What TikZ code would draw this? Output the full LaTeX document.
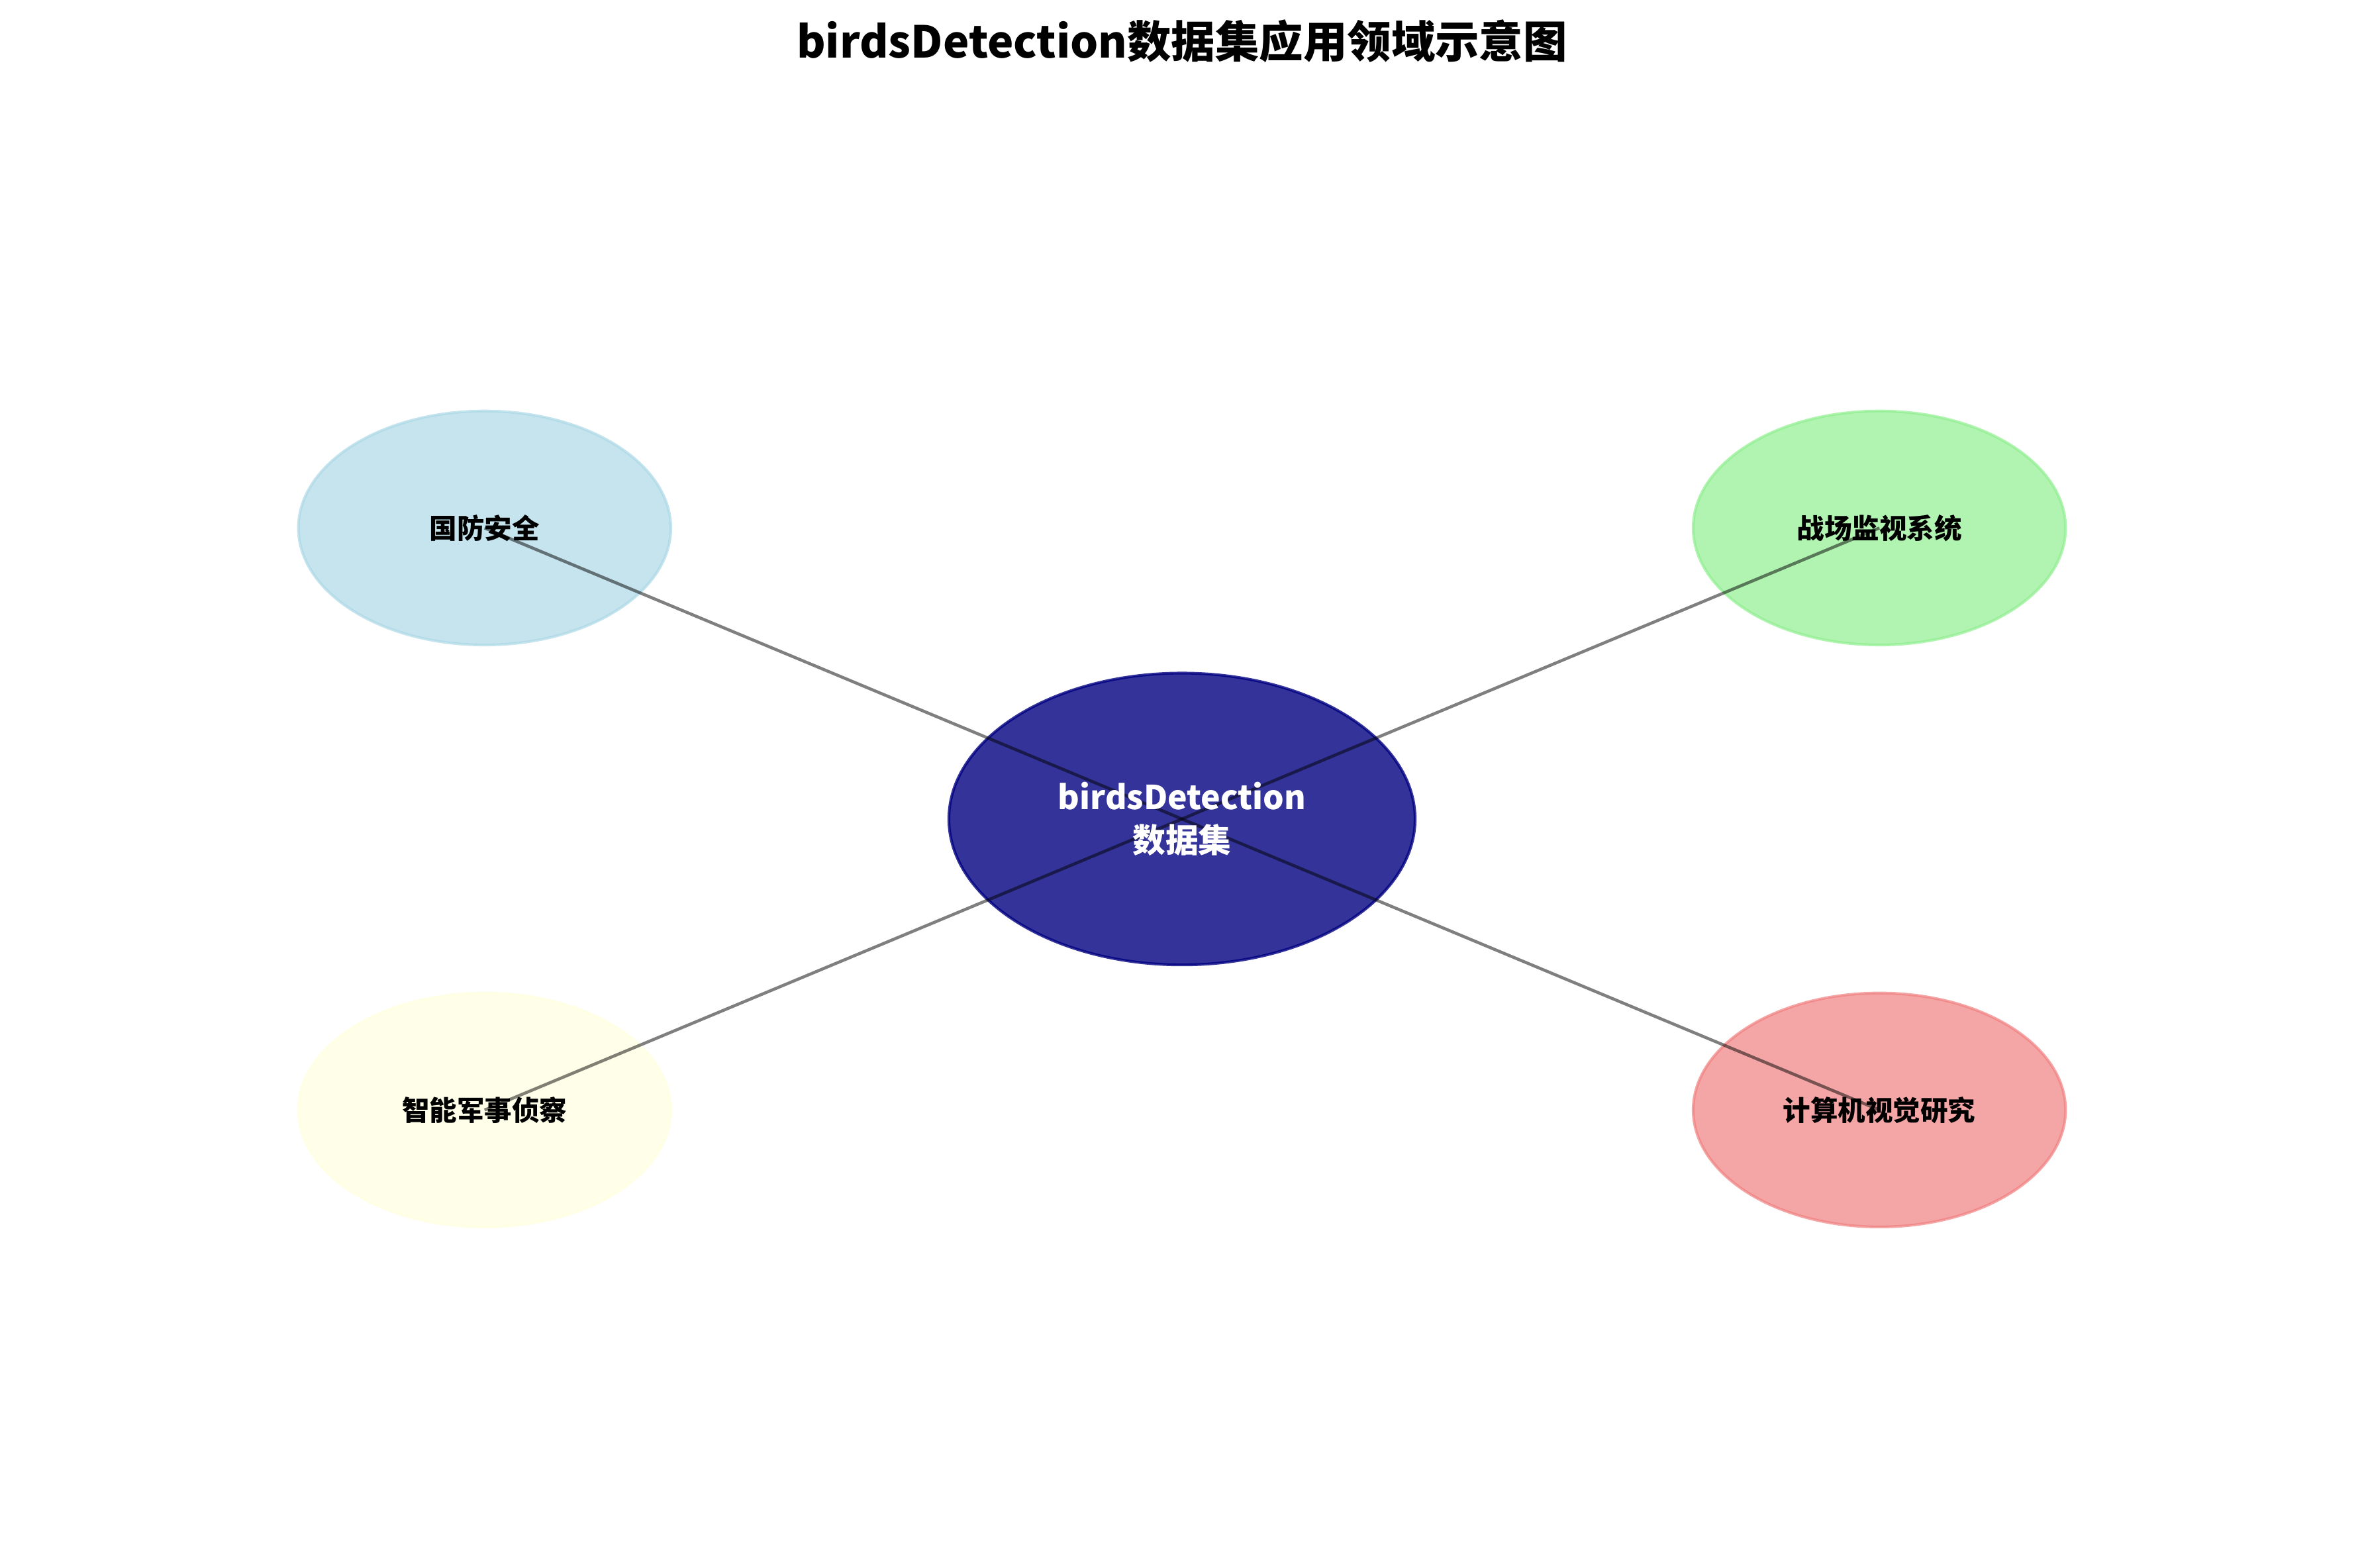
\documentclass[tikz,border=0pt]{standalone}
\usepackage{fontspec}
\setmainfont{Noto Sans CJK SC}
\usetikzlibrary{shapes.geometric}
\definecolor{navyblue}{HTML}{000080}
\definecolor{lightblue}{HTML}{ADD8E6}
\definecolor{lightgreen}{HTML}{90EE90}
\definecolor{lightyellow}{HTML}{FFFFE0}
\definecolor{lightcoral}{HTML}{F08080}
\newcommand{\titlefont}{\fontsize{16}{20}\selectfont\bfseries}
\newcommand{\hubfont}{\fontsize{12}{15.6}\selectfont\bfseries}
\newcommand{\areafont}{\fontsize{10}{12}\selectfont\bfseries}

\begin{document}
\begin{tikzpicture}[
    hub/.style={ellipse, draw=navyblue, fill=navyblue, fill opacity=0.8, draw opacity=0.8,
        line width=1pt, inner sep=0pt, minimum width=5.96cm, minimum height=3.73cm},
    area/.style={ellipse, fill opacity=0.7, draw opacity=0.7, line width=1pt,
        inner sep=0pt, minimum width=4.76cm, minimum height=2.99cm},
    link/.style={black, opacity=0.5, line width=1.1pt},
    areatext/.style={font=\areafont, text=black}
]
\useasboundingbox (-15.11,-9.57) rectangle (15.11,10.47);

% ---- title ----
\node[font=\titlefont] (title) at (0,9.94) {birdsDetection数据集应用领域示意图};

% ---- ellipses ----
\node[hub] (hub) at (0,0) {};
\node[area, draw=lightblue, fill=lightblue] (defense) at (-8.915,3.72) {};
\node[area, draw=lightgreen, fill=lightgreen] (battle) at (8.915,3.72) {};
\node[area, draw=lightyellow, fill=lightyellow] (recon) at (-8.915,-3.72) {};
\node[area, draw=lightcoral, fill=lightcoral] (vision) at (8.915,-3.72) {};

% ---- links ----
\draw[link] (hub.center) -- (defense.center);
\draw[link] (hub.center) -- (battle.center);
\draw[link] (hub.center) -- (recon.center);
\draw[link] (hub.center) -- (vision.center);

% ---- texts ----
\node[font=\hubfont, text=white, align=center] (hubtext) at (hub.center) {birdsDetection\\数据集};
\node[areatext] (defensetext) at (defense.center) {国防安全};
\node[areatext] (battletext) at (battle.center) {战场监视系统};
\node[areatext] (recontext) at (recon.center) {智能军事侦察};
\node[areatext] (visiontext) at (vision.center) {计算机视觉研究};
\end{tikzpicture}
\end{document}
